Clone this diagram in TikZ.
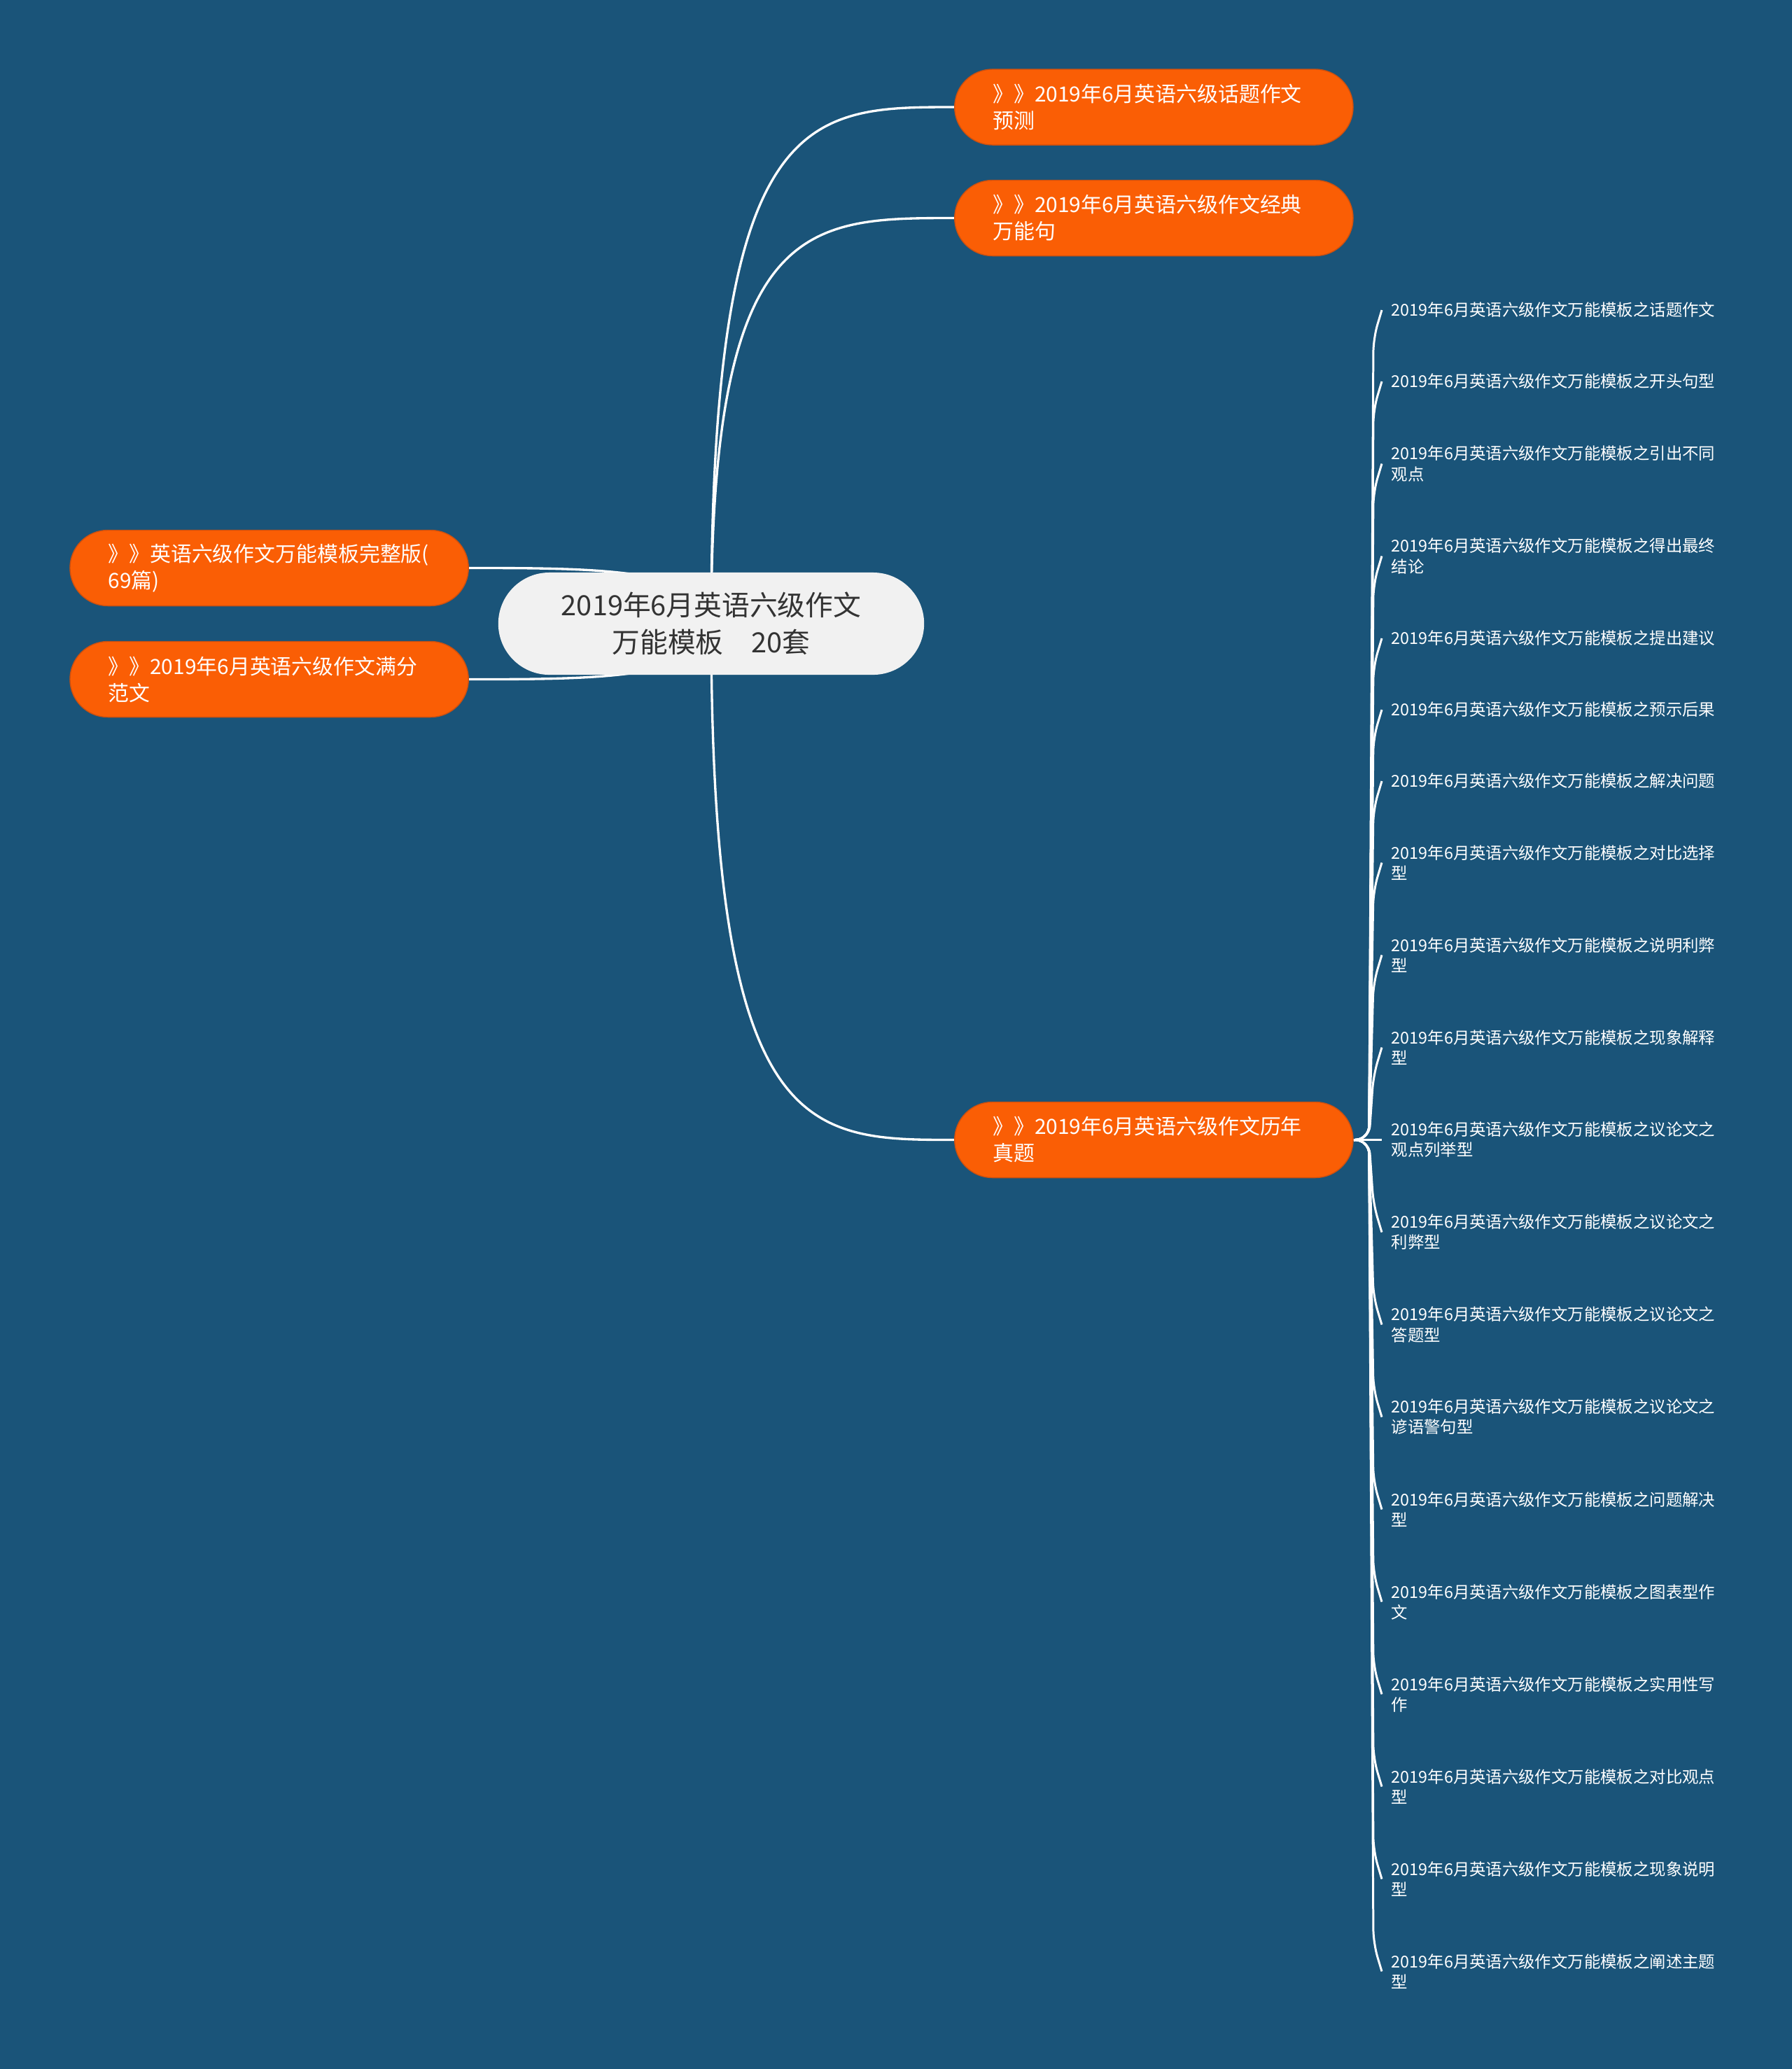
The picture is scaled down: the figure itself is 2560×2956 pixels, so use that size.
\documentclass[tikz,border=0pt]{standalone}
\usepackage{fontspec}
\setmainfont{Noto Sans CJK SC}
\usepackage{xcolor}
\usepackage{tikz}
\definecolor{bgblue}{RGB}{26,84,121}
\definecolor{mmorange}{RGB}{250,94,5}
\definecolor{mmedge}{RGB}{205,80,15}
\definecolor{rootgray}{RGB}{241,241,241}
\definecolor{roottext}{RGB}{51,51,51}
\pgfdeclarelayer{back}
\pgfdeclarelayer{links}
\pgfsetlayers{back,links,main}
\tikzset{
  rootnode/.style={fill=rootgray,text=roottext,rounded corners=0.73cm,minimum width=6.08cm,minimum height=1.46cm,align=center,font=\fontsize{11.3}{15.1}\selectfont},
  topicnode/.style={fill=mmorange,draw=mmedge,line width=0.4pt,text=white,rounded corners=0.54cm,minimum height=1.08cm,text width=4.6cm,inner xsep=0.545cm,inner ysep=0pt,align=left,font=\fontsize{8.5}{10.8}\selectfont},
  leafnode/.style={anchor=west,text=white,align=left,inner xsep=0.13cm,inner ysep=0pt,font=\fontsize{6.65}{8.25}\selectfont},
  link/.style={draw=white,line width=0.95pt},
  leaflink/.style={draw=white,line width=0.85pt,rounded corners=0.2cm},
}

\begin{document}
\begin{tikzpicture}[x=0.01cm,y=-0.01cm]
\useasboundingbox (0,0) rectangle (2560,2956);
\begin{pgfonlayer}{back}
\fill[bgblue] (0,0) rectangle (2560,2956);
\end{pgfonlayer}

\node[rootnode] (root) at (1016,891) {2019年6月英语六级作文\\万能模板　20套};

\node[topicnode,anchor=west] (predict) at (1363,153) {》》2019年6月英语六级话题作文\\预测};
\node[topicnode,anchor=west] (sentence) at (1363,311.5) {》》2019年6月英语六级作文经典\\万能句};
\node[topicnode,anchor=west] (history) at (1363,1628.5) {》》2019年6月英语六级作文历年\\真题};
\node[topicnode,anchor=east] (fullset) at (670,811.5) {》》英语六级作文万能模板完整版(\\69篇)};
\node[topicnode,anchor=east] (sample) at (670,970.5) {》》2019年6月英语六级作文满分\\范文};

\node[leafnode] (t1) at (1974,443) {2019年6月英语六级作文万能模板之话题作文};
\node[leafnode] (t2) at (1974,545) {2019年6月英语六级作文万能模板之开头句型};
\node[leafnode] (t3) at (1974,662.5) {2019年6月英语六级作文万能模板之引出不同\\观点};
\node[leafnode] (t4) at (1974,794.5) {2019年6月英语六级作文万能模板之得出最终\\结论};
\node[leafnode] (t5) at (1974,912) {2019年6月英语六级作文万能模板之提出建议};
\node[leafnode] (t6) at (1974,1014) {2019年6月英语六级作文万能模板之预示后果};
\node[leafnode] (t7) at (1974,1116) {2019年6月英语六级作文万能模板之解决问题};
\node[leafnode] (t8) at (1974,1232.5) {2019年6月英语六级作文万能模板之对比选择\\型};
\node[leafnode] (t9) at (1974,1364.5) {2019年6月英语六级作文万能模板之说明利弊\\型};
\node[leafnode] (t10) at (1974,1496.5) {2019年6月英语六级作文万能模板之现象解释\\型};
\node[leafnode] (t11) at (1974,1628.5) {2019年6月英语六级作文万能模板之议论文之\\观点列举型};
\node[leafnode] (t12) at (1974,1760.5) {2019年6月英语六级作文万能模板之议论文之\\利弊型};
\node[leafnode] (t13) at (1974,1892.5) {2019年6月英语六级作文万能模板之议论文之\\答题型};
\node[leafnode] (t14) at (1974,2024.5) {2019年6月英语六级作文万能模板之议论文之\\谚语警句型};
\node[leafnode] (t15) at (1974,2156.5) {2019年6月英语六级作文万能模板之问题解决\\型};
\node[leafnode] (t16) at (1974,2288.5) {2019年6月英语六级作文万能模板之图表型作\\文};
\node[leafnode] (t17) at (1974,2420.5) {2019年6月英语六级作文万能模板之实用性写\\作};
\node[leafnode] (t18) at (1974,2552.5) {2019年6月英语六级作文万能模板之对比观点\\型};
\node[leafnode] (t19) at (1974,2684.5) {2019年6月英语六级作文万能模板之现象说明\\型};
\node[leafnode] (t20) at (1974,2816.5) {2019年6月英语六级作文万能模板之阐述主题\\型};

\begin{pgfonlayer}{links}
\draw[link] (root.center) .. controls (root.center |- predict.west) and +(-210,0) .. (predict.west);
\draw[link] (root.center) .. controls (root.center |- sentence.west) and +(-210,0) .. (sentence.west);
\draw[link] (root.center) .. controls (root.center |- history.west) and +(-210,0) .. (history.west);
\draw[link] (root.center) .. controls (root.center |- fullset.east) and +(180,0) .. (fullset.east);
\draw[link] (root.center) .. controls (root.center |- sample.east) and +(180,0) .. (sample.east);

\draw[leaflink] (history.east) -- +(22,0) -- ([shift={(-12,40)}]t1.west) -- (t1.west);
\draw[leaflink] (history.east) -- +(22,0) -- ([shift={(-12,40)}]t2.west) -- (t2.west);
\draw[leaflink] (history.east) -- +(22,0) -- ([shift={(-12,40)}]t3.west) -- (t3.west);
\draw[leaflink] (history.east) -- +(22,0) -- ([shift={(-12,40)}]t4.west) -- (t4.west);
\draw[leaflink] (history.east) -- +(22,0) -- ([shift={(-12,40)}]t5.west) -- (t5.west);
\draw[leaflink] (history.east) -- +(22,0) -- ([shift={(-12,40)}]t6.west) -- (t6.west);
\draw[leaflink] (history.east) -- +(22,0) -- ([shift={(-12,40)}]t7.west) -- (t7.west);
\draw[leaflink] (history.east) -- +(22,0) -- ([shift={(-12,40)}]t8.west) -- (t8.west);
\draw[leaflink] (history.east) -- +(22,0) -- ([shift={(-12,40)}]t9.west) -- (t9.west);
\draw[leaflink] (history.east) -- +(22,0) -- ([shift={(-12,40)}]t10.west) -- (t10.west);
\draw[leaflink] (history.east) -- (t11.west);
\draw[leaflink] (history.east) -- +(22,0) -- ([shift={(-12,-40)}]t12.west) -- (t12.west);
\draw[leaflink] (history.east) -- +(22,0) -- ([shift={(-12,-40)}]t13.west) -- (t13.west);
\draw[leaflink] (history.east) -- +(22,0) -- ([shift={(-12,-40)}]t14.west) -- (t14.west);
\draw[leaflink] (history.east) -- +(22,0) -- ([shift={(-12,-40)}]t15.west) -- (t15.west);
\draw[leaflink] (history.east) -- +(22,0) -- ([shift={(-12,-40)}]t16.west) -- (t16.west);
\draw[leaflink] (history.east) -- +(22,0) -- ([shift={(-12,-40)}]t17.west) -- (t17.west);
\draw[leaflink] (history.east) -- +(22,0) -- ([shift={(-12,-40)}]t18.west) -- (t18.west);
\draw[leaflink] (history.east) -- +(22,0) -- ([shift={(-12,-40)}]t19.west) -- (t19.west);
\draw[leaflink] (history.east) -- +(22,0) -- ([shift={(-12,-40)}]t20.west) -- (t20.west);
\end{pgfonlayer}
\end{tikzpicture}
\end{document}
